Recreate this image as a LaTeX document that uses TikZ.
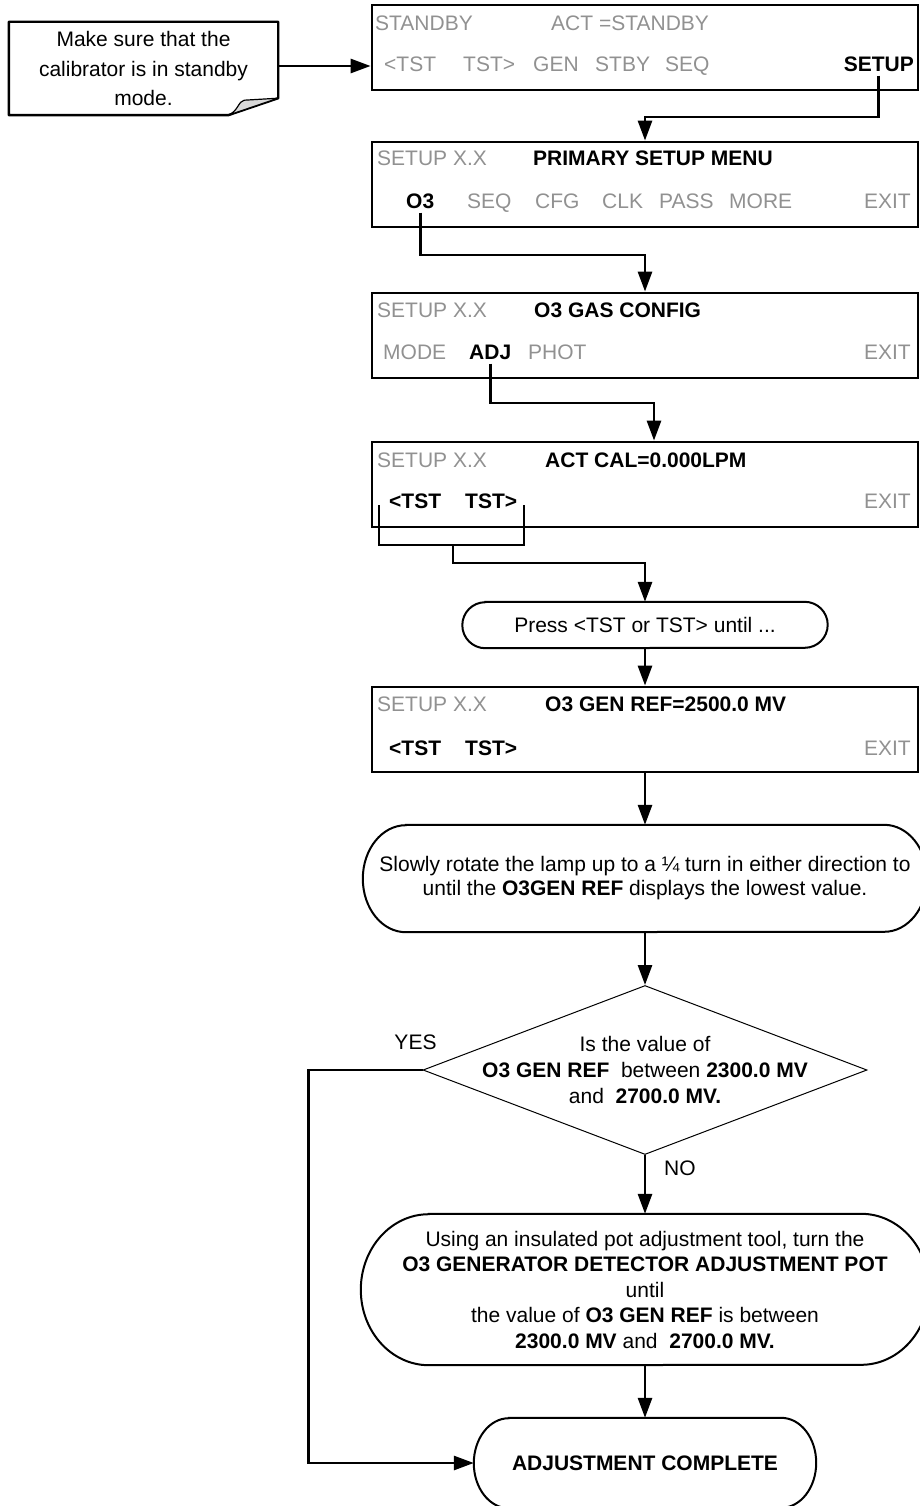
\documentclass[tikz,border=0pt]{standalone}
\usepackage{fontspec}
\setmainfont{Liberation Sans}
\usetikzlibrary{arrows.meta,shapes.geometric,calc}
\definecolor{lcdgray}{RGB}{145,145,145}

\begin{document}
\begin{tikzpicture}[x=1pt,y=1pt,
  txt/.style={font=\fontsize{21}{25}\selectfont, inner sep=0pt},
  dim/.style={txt, text=lcdgray, anchor=west, text height=15pt, text depth=4pt},
  key/.style={txt, font=\fontsize{21}{25}\selectfont\bfseries, anchor=west, text height=15pt, text depth=4pt},
  screen/.style={draw, line width=2.8pt, minimum width=546pt, minimum height=85pt, inner sep=0pt},
  conn/.style={line width=2.8pt, -{Triangle[length=20pt,width=14pt]}},
  pill/.style={txt, align=center},
  pillfrm/.style={line width=2pt}]
\useasboundingbox (0,0) rectangle (919,-1506);

% Note
\node[txt, align=center, font=\fontsize{21}{29.5}\selectfont, minimum width=269pt, minimum height=93pt] (note) at (143.5,-68.5)
  {Make sure that the\\calibrator is in standby\\mode.};
\draw[line width=2.4pt, line join=round] (note.north west) -- (note.north east) -- ([yshift=17pt]note.south east)
  -- ([xshift=-50pt]note.south east) -- (note.south west) -- cycle;
\filldraw[fill=black!15, line width=1.2pt, line join=round] ([xshift=-50pt]note.south east)
  .. controls ([xshift=-40pt,yshift=4pt]note.south east) and ([xshift=-40pt,yshift=14pt]note.south east) .. ([xshift=-34pt,yshift=15pt]note.south east)
  -- ([yshift=17pt]note.south east) -- cycle;

% Screen 1
\node[screen] (box1) at (645,-47.5) {};
\node[dim] (s1a) at (375,-25) {STANDBY};
\node[dim] (s1b) at (551,-25) {ACT =STANDBY};
\node[dim] (s1c) at (384,-66) {<TST};
\node[dim] (s1d) at (463,-66) {TST>};
\node[dim] (s1e) at (533,-66) {GEN};
\node[dim] (s1f) at (595,-66) {STBY};
\node[dim] (s1g) at (665,-66) {SEQ};
\node[key, anchor=east] (setup) at (914,-66) {SETUP};

% Screen 2
\node[screen] (box2) at (645,-184.5) {};
\node[dim] (s2a) at (377,-160) {SETUP X.X};
\node[key] (s2b) at (533,-160) {PRIMARY SETUP MENU};
\node[key] (o3) at (406,-203) {O3};
\node[dim] (s2c) at (467,-203) {SEQ};
\node[dim] (s2d) at (535,-203) {CFG};
\node[dim] (s2e) at (602,-203) {CLK};
\node[dim] (s2f) at (659,-203) {PASS};
\node[dim] (s2g) at (729,-203) {MORE};
\node[dim, anchor=east] (s2h) at (911,-203) {EXIT};

% Screen 3
\node[screen] (box3) at (645,-335.5) {};
\node[dim] (s3a) at (377,-312) {SETUP X.X};
\node[key] (s3b) at (534,-312) {O3 GAS CONFIG};
\node[dim] (s3c) at (383,-354) {MODE};
\node[key] (adj) at (469,-354) {ADJ};
\node[dim] (s3d) at (528,-354) {PHOT};
\node[dim, anchor=east] (s3e) at (911,-354) {EXIT};

% Screen 4
\node[screen] (box4) at (645,-484.5) {};
\node[dim] (s4a) at (377,-462) {SETUP X.X};
\node[key] (s4b) at (545,-462) {ACT CAL=0.000LPM};
\node[key] (s4c) at (389,-503) {<TST};
\node[key] (s4d) at (465,-503) {TST>};
\node[dim, anchor=east] (s4e) at (911,-503) {EXIT};

% Screen 5
\node[screen] (box5) at (645,-729.5) {};
\node[dim] (s5a) at (377,-706) {SETUP X.X};
\node[key] (s5b) at (545,-706) {O3 GEN REF=2500.0 MV};
\node[key] (s5c) at (389,-750) {<TST};
\node[key] (s5d) at (465,-750) {TST>};
\node[dim, anchor=east] (s5e) at (911,-750) {EXIT};

% Pills
\node[pill, minimum width=365pt, minimum height=46pt] (press) at (645,-625) {Press <TST or TST> until ...};
\node[pill, font=\fontsize{21}{24}\selectfont, minimum width=564pt, minimum height=107pt] (slow) at (645,-878.5)
  {Slowly rotate the lamp up to a ¼ turn in either direction to\\until the \textbf{O3GEN REF} displays the lowest value.};
\node[pill, font=\fontsize{21}{25.5}\selectfont, minimum width=568pt, minimum height=151pt] (use) at (645,-1289.5)
  {Using an insulated pot adjustment tool, turn the\\\textbf{O3 GENERATOR DETECTOR ADJUSTMENT POT}\\until\\
   the value of \textbf{O3 GEN REF} is between\\\textbf{2300.0 MV} and\ \ \textbf{2700.0 MV.}};
\node[pill, minimum width=342pt, minimum height=90pt] (done) at (645,-1463) {\textbf{ADJUSTMENT COMPLETE}};
\foreach \n/\rx/\ry in {press/23/23, slow/43/53.5, use/68/75.5, done/35/45}{
  \draw[pillfrm] ([xshift=\rx pt]\n.north west) -- ([xshift=-\rx pt]\n.north east)
    arc[start angle=90, end angle=-90, x radius=\rx pt, y radius=\ry pt]
    -- ([xshift=\rx pt]\n.south west)
    arc[start angle=270, end angle=90, x radius=\rx pt, y radius=\ry pt] -- cycle;
}

% Decision
\node[draw, shape=diamond, line width=1pt, minimum width=444pt, minimum height=169pt, inner sep=0pt] (dec) at (645,-1070) {};
\node[txt, align=center, font=\fontsize{21}{26}\selectfont] (dectxt) at (dec.center)
  {Is the value of\\\textbf{O3 GEN REF}\ \ between \textbf{2300.0 MV}\\and\ \ \textbf{2700.0 MV.}};
\node[txt] (yes) at ([xshift=-7pt,yshift=28pt]dec.west) {YES};
\node[txt, anchor=west] (no) at ([xshift=19pt,yshift=-13pt]dec.south) {NO};

% Connectors
\coordinate (k1) at (645,-117);
\coordinate (k2) at (645,-255);
\coordinate (k3) at (654,-403);
\coordinate (tl) at (379,-505);
\coordinate (bl) at (379,-545);
\coordinate (br) at (524,-545);
\coordinate (tr) at (524,-505);
\coordinate (mid) at (453,-545);
\coordinate (k4) at (645,-563);
\coordinate (k5) at (308.5,-1070);
\draw[conn] (note.east |- s1c) -- (box1.west |- s1c);
\draw[conn] (setup.south) |- (k1) -- (box2.north);
\draw[conn] (o3.south) |- (k2) -- (box3.north);
\draw[conn] (adj.south) |- (k3) -- (k3 |- box4.north);
\draw[line width=2.8pt] (tl) -- (bl) -- (br) -- (tr);
\draw[conn] (mid) |- (k4) -- (press.north);
\draw[conn] (press.south) -- (box5.north);
\draw[conn] (box5.south) -- (slow.north);
\draw[conn] (slow.south) -- (dec.north);
\draw[conn] (dec.south) -- (use.north);
\draw[conn] (use.south) -- (done.north);
\draw[conn] (dec.west) -- (k5) |- (done.west);

\end{tikzpicture}
\end{document}
